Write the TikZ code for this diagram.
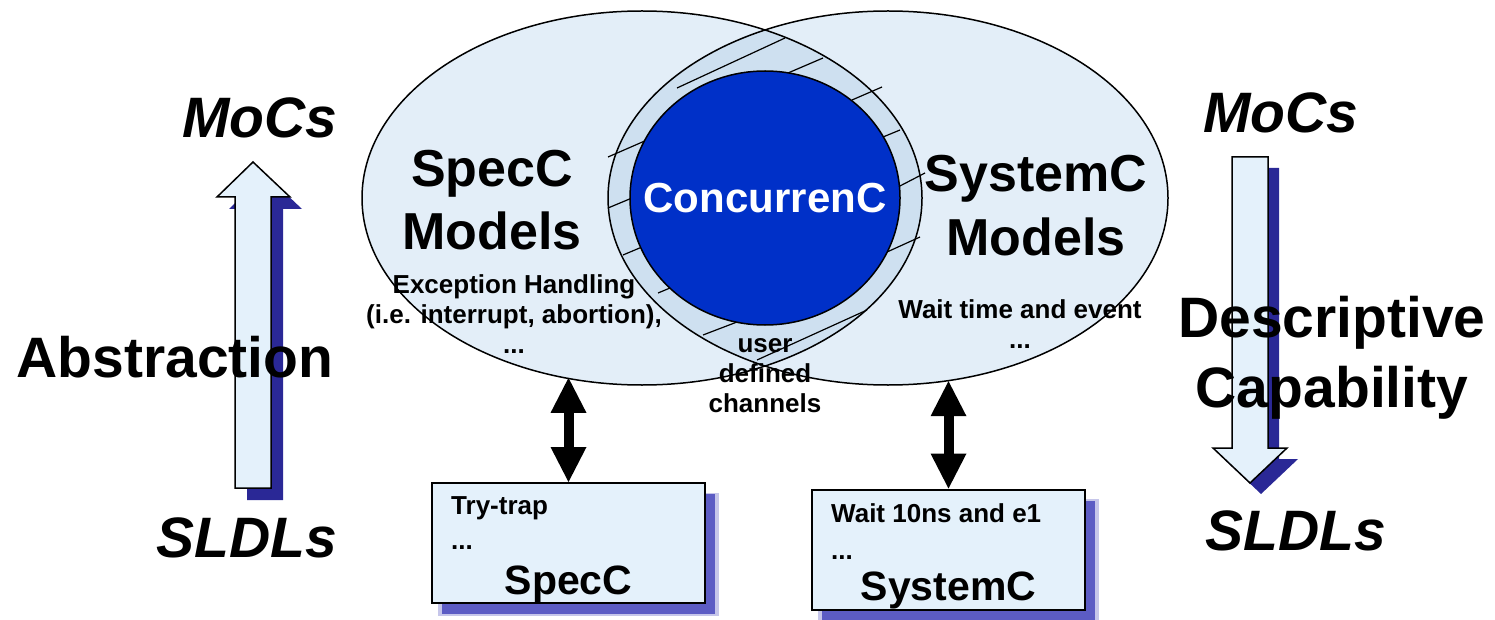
\documentclass[tikz,border=0pt]{standalone}
\usepackage{fontspec}
\setmainfont{Liberation Sans}
\usetikzlibrary{arrows.meta,shapes.geometric,shadows,calc}

\definecolor{modelfill}{RGB}{227,238,248}
\definecolor{lensfill}{RGB}{206,224,240}
\definecolor{boxfill}{RGB}{228,241,251}
\definecolor{concblue}{RGB}{0,48,200}
\definecolor{arrowshadow}{RGB}{42,40,150}
\definecolor{boxshadow}{RGB}{92,92,196}

\begin{document}
\begin{tikzpicture}[x=1pt,y=-1pt,
        model/.style={ellipse, fill=modelfill, minimum width=560, minimum height=374, inner sep=0pt, outer sep=0pt},
        title/.style={font=\fontsize{52}{63}\selectfont\bfseries, align=center, inner sep=0pt, anchor=base},
        note/.style={font=\fontsize{26}{30}\selectfont\bfseries, align=center, inner sep=0pt, anchor=base},
        side/.style={font=\fontsize{57}{70}\selectfont\bfseries, align=center, inner sep=0pt, anchor=base},
        layer/.style={side, font=\fontsize{57}{70}\selectfont\bfseries\itshape},
        lang/.style={font=\fontsize{41}{41}\selectfont\bfseries, inner sep=0pt, anchor=base},
        code/.style={font=\fontsize{26}{30}\selectfont\bfseries, inner sep=0pt, anchor=base west},
        codebox/.style={draw, line width=2pt, fill=boxfill, minimum width=273, minimum height=120, inner sep=0pt,
            drop shadow={shadow xshift=10pt, shadow yshift=-11pt, shadow scale=1.03, fill=boxshadow, opacity=.35},
            drop shadow={shadow xshift=10pt, shadow yshift=-11pt, fill=boxshadow, opacity=1}},
        bigarrow/.style={line width=1.5pt, fill=boxfill, line join=miter},
        dbl/.style={line width=10pt,
            {Triangle[length=35pt,width=36pt,line width=0pt]}-{Triangle[length=35pt,width=36pt,line width=0pt]}}]
        \useasboundingbox (0,0) rectangle (1495,620);

        % the two model ellipses and their overlap
        \node[model] (specell) at (642,198) {};
        \node[model] (sysell) at (888,198) {};
        \begin{scope}
            \clip (specell.center) ellipse [x radius=280, y radius=187];
            \fill[lensfill] (sysell.center) ellipse [x radius=280, y radius=187];
        \end{scope}
        \draw[line width=1.5pt] (specell.center) ellipse [x radius=280, y radius=187];
        \draw[line width=1.5pt] (sysell.center) ellipse [x radius=280, y radius=187];

        \foreach \xa/\ya/\xb/\yb in {677/88/785/38, 788/73/823/58, 852/100/882/87, 883/137/900/130,
                898/187/925/173, 887/252/920/237, 757/360/867/310, 703/335/737/322,
                658/293/670/288, 623/255/642/247, 608/208/632/198, 608/157/647/140}{
            \draw[line width=1.2pt] (\xa,\ya) -- (\xb,\yb);
        }

        \node[ellipse, draw, line width=1.5pt, fill=concblue, minimum width=270, minimum height=254, inner sep=0pt] (conc) at (765,198) {};
        \node[font=\fontsize{42}{42}\selectfont\bfseries, text=white, inner sep=0pt, anchor=base] (conctxt) at (765,213) {ConcurrenC};

        % last line sits on the given base
        \node[title] (spectxt) at (492,250) {SpecC\\Models};
        \node[title] (systxt) at (1036,255) {SystemC\\Models};
        \node[note] (exctxt) at (514,353) {Exception Handling\\(i.e. interrupt, abortion),\\...};
        \node[note] (waittxt) at (1020,348) {Wait time and event\\...};
        \node[note] (usertxt) at (765,412) {user\\defined\\channels};

        % code boxes
        \node[codebox] (specbox) at (568.5,543) {};
        \node[codebox] (sysbox) at (948.5,549.5) {};
        \node[code] (trytxt) at ($(specbox.north west)+(20,32)$) {Try-trap};
        \node[code] (specdots) at ($(specbox.north west)+(20,67)$) {...};
        \node[lang] (speclang) at ($(specbox.south)+(0,-10)$) {SpecC};
        \node[code] (waitcode) at ($(sysbox.north west)+(20,34)$) {Wait 10ns and e1};
        \node[code] (sysdots) at ($(sysbox.north west)+(20,71)$) {...};
        \node[lang] (syslang) at ($(sysbox.south)+(0,-10)$) {SystemC};

        \draw[dbl] (specbox.north) -- (specbox.north |- specell.247.6);
        \draw[dbl] (sysbox.north) -- (sysbox.north |- sysell.287.9);

        % side arrows
        \fill[arrowshadow, shift={(12,12)}] (235,488) -- (235,197) -- (217,197) -- (253,162) -- (290,197) -- (271,197) -- (271,488) -- cycle;
        \draw[bigarrow] (235,488) -- (235,197) -- (217,197) -- (253,162) -- (290,197) -- (271,197) -- (271,488) -- cycle;
        \fill[arrowshadow, shift={(11,11)}] (1232,157) -- (1232,448) -- (1213,448) -- (1250,483) -- (1287,448) -- (1268,448) -- (1268,157) -- cycle;
        \draw[bigarrow] (1232,157) -- (1232,448) -- (1213,448) -- (1250,483) -- (1287,448) -- (1268,448) -- (1268,157) -- cycle;

        \node[layer] (mocsl) at (260,138) {MoCs};
        \node[layer] (sldlsl) at (247,557) {SLDLs};
        \node[side] (abstr) at (175,377) {Abstraction};
        \node[layer] (mocsr) at (1281,133) {MoCs};
        \node[layer] (sldlsr) at (1296,550) {SLDLs};
        \node[side] (descr) at (1332,407) {Descriptive\\Capability};
    \end{tikzpicture}
\end{document}
